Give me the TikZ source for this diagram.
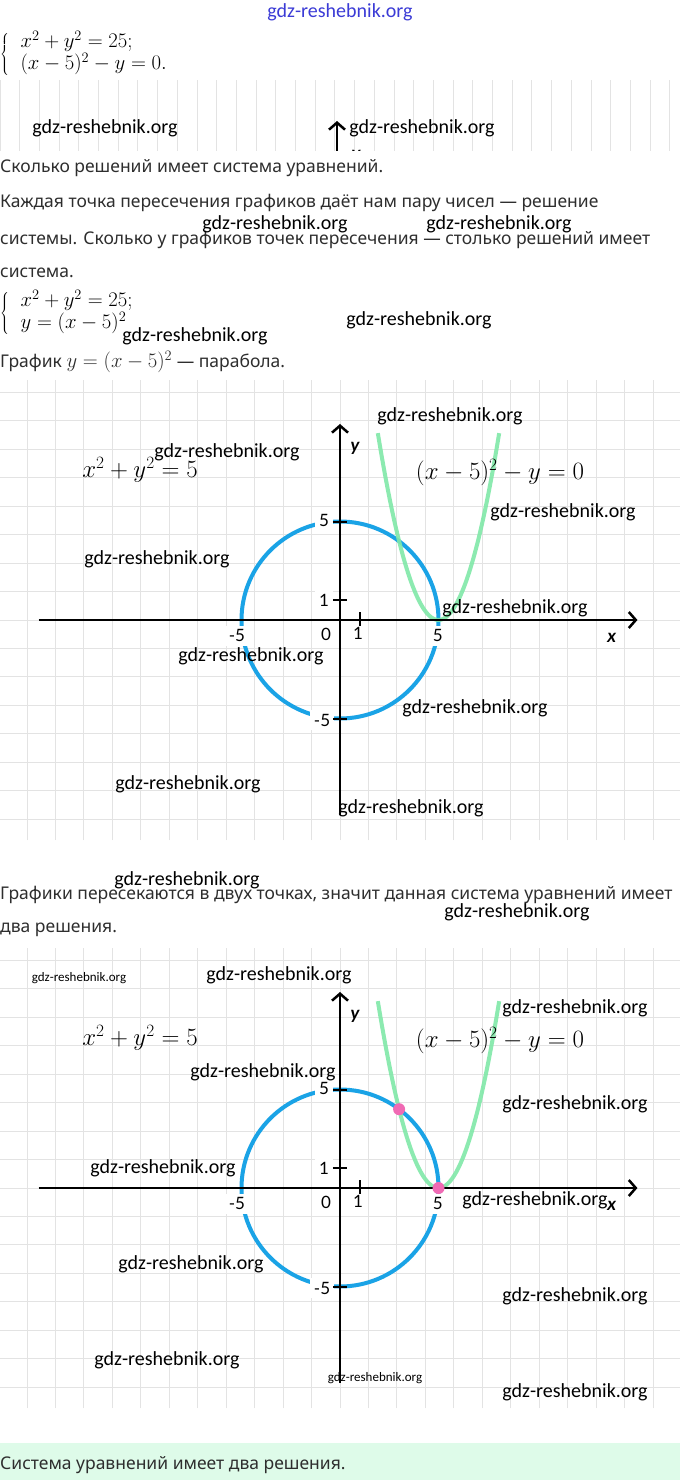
\documentclass[tikz,border=0pt]{standalone}
\usepackage{fontspec}
\setmainfont{Noto Sans}
\newfontfamily\wmfont{Carlito}
\newfontfamily\axfont{Lato}
\usetikzlibrary{arrows.meta}
\definecolor{circblue}{HTML}{1AA3E6}
\definecolor{parabgreen}{HTML}{80E8A8}
\definecolor{dotpink}{HTML}{F06AB4}
\definecolor{gridgrey}{HTML}{E3E3E3}
\definecolor{textgrey}{HTML}{2E2E2E}
\definecolor{boxmint}{HTML}{DEFBE9}
\definecolor{wmblue}{HTML}{3B3BD6}

\begin{document}
\begin{tikzpicture}[x=1pt,y=-1pt,
    wm/.style={font=\wmfont\fontsize{20}{22}\selectfont, inner sep=0pt},
    wmsmall/.style={font=\wmfont\fontsize{13}{15}\selectfont, inner sep=0pt},
    body/.style={anchor=west, inner sep=0pt, text=textgrey, font=\fontsize{17.5}{20}\selectfont},
    sys/.style={anchor=west, inner sep=0pt, font=\fontsize{20}{24}\selectfont},
    eq/.style={font=\fontsize{26}{30}\selectfont},
    ticklabel/.style={font=\axfont\fontsize{17}{19}\selectfont, fill=white, inner sep=4pt},
    axlabel/.style={font=\axfont\itshape\bfseries\fontsize{18}{20}\selectfont, inner sep=0pt},
    axis/.style={line width=2.5pt, -{Straight Barb[length=7pt,width=16pt,line width=2.5pt]}},
    tickmark/.style={line width=2pt},
    gridline/.style={gridgrey, line width=0.9pt},
    circ/.style={circblue, line width=4pt},
    parab/.style={parabgreen, line width=4pt, opacity=0.9},
    sol/.style={dotpink},
  ]
    \useasboundingbox (0,0) rectangle (680,1480);
    \fill[white] (0,0) rectangle (680,1480);

%top: system
    \node[wm, text=wmblue] (wm0) at (340,12) {gdz-reshebnik.org};
    \node[sys] (sys1) at (0,54) {$\left\{\begin{array}{@{\;\;}l} x^2+y^2=25;\\[-2pt] (x-5)^2-y=0. \end{array}\right.$};

%strip of grid
    \begin{scope}
        \clip (0,80) rectangle (680,150);
        \draw[gridline, step=19.7] (0,60) grid (680,160);
        \coordinate (S0) at (337,152);
        \coordinate (S1) at (337,121);
        \draw[axis] (S0) -- (S1);
        \node[axlabel] (ys) at (356,156) {y};
    \end{scope}

%text
    \node[body] (t1) at (0,168) {Сколько решений имеет система уравнений.};
    \node[body] (t2) at (0,203) {Каждая точка пересечения графиков даёт нам пару чисел — решение};
    \node[body] (t3) at (0,240) {системы. Сколько у графиков точек пересечения — столько решений имеет};
    \node[body] (t4) at (0,273) {система.};
    \node[sys] (sys2) at (0,313) {$\left\{\begin{array}{@{\;\;}l} x^2+y^2=25;\\[-2pt] y=(x-5)^2 \end{array}\right.$};
    \node[body] (t5) at (0,362) {График {\fontsize{20}{22}\selectfont$y=(x-5)^2$} — парабола.};

%first graph
    \begin{scope}[shift={(340,620)}, x=19.7pt, y=19.7pt]
        \draw[gridline] (-17.26,-11.17) grid (17.26,12.18);
        \coordinate (O1) at (0,0);
        \coordinate (XL1) at (-15.3,0);
        \coordinate (XR1) at (15.1,0);
        \coordinate (YB1) at (0,-9.9);
        \coordinate (YT1) at (0,9.95);

        \draw[circ] (O1) circle (5);
        \draw[parab] plot[domain=1.92:8.08, samples=60] (\x,{(\x-5)^2});

        \node[ticklabel] (o1) at (-0.71,-0.71) {0};
        \node[ticklabel] (x11) at (0.91,-0.66) {1};
        \node[ticklabel] (x51) at (4.97,-0.81) {5};
        \node[ticklabel] (xm51) at (-5.23,-0.81) {-5};
        \node[ticklabel] (y11) at (-0.81,1.02) {1};
        \node[ticklabel] (y51) at (-0.81,5.03) {5};
        \node[ticklabel] (ym51) at (-0.91,-5.08) {-5};

        \draw[axis] (XL1) -- (XR1);
        \draw[axis] (YB1) -- (YT1);
        \foreach \t in {1,5,-5}
            \draw[tickmark] (-0.36,\t) -- (0.36,\t);
        \draw[tickmark] (1,-0.3) -- (1,0.4);

        \node[axlabel] (ya1) at (0.76,8.73) {y};
        \node[axlabel] (xa1) at (13.8,-0.91) {x};
        \node[eq] (c1) at (-10.15,7.61) {$x^2+y^2=5$};
        \node[eq] (p1) at (8.12,7.51) {$(x-5)^2-y=0$};
    \end{scope}

    \node[body] (t6) at (0,895) {Графики пересекаются в двух точках, значит данная система уравнений имеет};
    \node[body] (t7) at (0,930) {два решения.};

%second graph
    \begin{scope}[shift={(340,1188)}, x=19.7pt, y=19.7pt]
        \draw[gridline] (-17.26,-11.17) grid (17.26,12.18);
        \coordinate (O2) at (0,0);
        \coordinate (XL2) at (-15.3,0);
        \coordinate (XR2) at (15.1,0);
        \coordinate (YB2) at (0,-9.9);
        \coordinate (YT2) at (0,9.95);
        \coordinate (P) at (3,4);
        \coordinate (Q) at (5,0);

        \draw[circ] (O2) circle (5);
        \draw[parab] plot[domain=1.92:8.08, samples=60] (\x,{(\x-5)^2});

        \node[ticklabel] (o2) at (-0.71,-0.71) {0};
        \node[ticklabel] (x12) at (0.91,-0.66) {1};
        \node[ticklabel] (x52) at (4.97,-0.81) {5};
        \node[ticklabel] (xm52) at (-5.23,-0.81) {-5};
        \node[ticklabel] (y12) at (-0.81,1.02) {1};
        \node[ticklabel] (y52) at (-0.81,5.03) {5};
        \node[ticklabel] (ym52) at (-0.91,-5.08) {-5};

        \draw[axis] (XL2) -- (XR2);
        \draw[axis] (YB2) -- (YT2);
        \foreach \t in {1,5,-5}
            \draw[tickmark] (-0.36,\t) -- (0.36,\t);
        \draw[tickmark] (1,-0.3) -- (1,0.4);
        \fill[sol] (P) circle (6pt);
        \fill[sol] (Q) circle (6pt);

        \node[axlabel] (ya2) at (0.76,8.73) {y};
        \node[axlabel] (xa2) at (13.8,-0.91) {x};
        \node[eq] (c2) at (-10.15,7.61) {$x^2+y^2=5$};
        \node[eq] (p2) at (8.12,7.51) {$(x-5)^2-y=0$};
    \end{scope}

%answer
    \fill[boxmint] (0,1443) rectangle (680,1480);
    \node[body] (t8) at (0,1465) {Система уравнений имеет два решения.};

%watermarks
    \node[wm] at (105,128) {gdz-reshebnik.org};
    \node[wm] at (422,128) {gdz-reshebnik.org};
    \node[wm] at (275,224) {gdz-reshebnik.org};
    \node[wm] at (499,224) {gdz-reshebnik.org};
    \node[wm] at (195,336) {gdz-reshebnik.org};
    \node[wm] at (419,320) {gdz-reshebnik.org};
    \node[wm] at (227,452) {gdz-reshebnik.org};
    \node[wm] at (450,416) {gdz-reshebnik.org};
    \node[wm] at (563,512) {gdz-reshebnik.org};
    \node[wm] at (157,559) {gdz-reshebnik.org};
    \node[wm] at (515,608) {gdz-reshebnik.org};
    \node[wm] at (251,656) {gdz-reshebnik.org};
    \node[wm] at (475,708) {gdz-reshebnik.org};
    \node[wm] at (188,784) {gdz-reshebnik.org};
    \node[wm] at (411,808) {gdz-reshebnik.org};
    \node[wm] at (187,880) {gdz-reshebnik.org};
    \node[wm] at (517,912) {gdz-reshebnik.org};
    \node[wmsmall] at (79,978) {gdz-reshebnik.org};
    \node[wm] at (279,975) {gdz-reshebnik.org};
    \node[wm] at (575,1008) {gdz-reshebnik.org};
    \node[wm] at (263,1072) {gdz-reshebnik.org};
    \node[wm] at (575,1104) {gdz-reshebnik.org};
    \node[wm] at (163,1168) {gdz-reshebnik.org};
    \node[wm] at (535,1200) {gdz-reshebnik.org};
    \node[wm] at (191,1264) {gdz-reshebnik.org};
    \node[wm] at (575,1296) {gdz-reshebnik.org};
    \node[wm] at (167,1360) {gdz-reshebnik.org};
    \node[wmsmall] at (375,1378) {gdz-reshebnik.org};
    \node[wm] at (575,1392) {gdz-reshebnik.org};
\end{tikzpicture}
\end{document}
